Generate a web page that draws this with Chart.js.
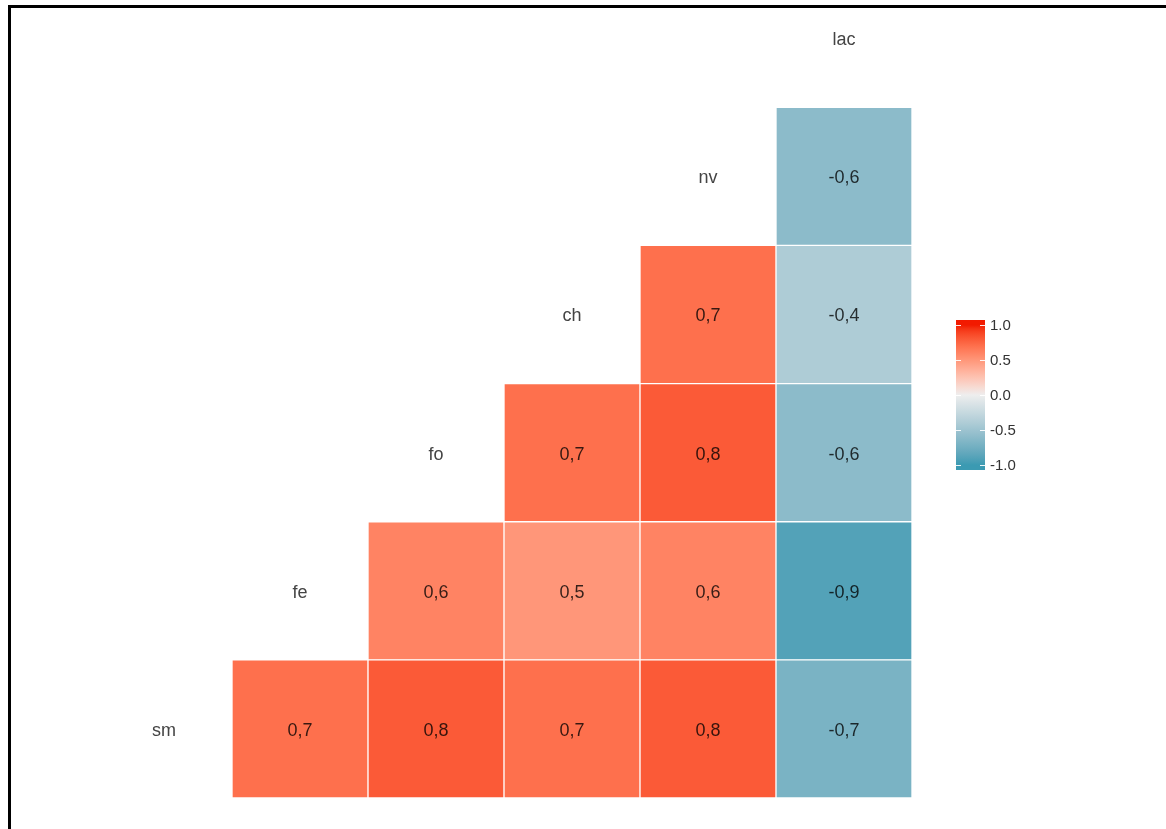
<!DOCTYPE html>
<html>
<head>
<meta charset="utf-8">
<script src="https://cdn.jsdelivr.net/npm/chart.js@4"></script>
<style>
  body { margin: 0; background: #fff; }
  #wrap { position: relative; width: 1166px; height: 829px; overflow: hidden; }
  #frame { position: absolute; left: 8px; top: 5px; right: -10px; bottom: -10px;
           border-top: 3px solid #000; border-left: 3px solid #000; }
  #corrChart { position: absolute; left: 0; top: 0; }
</style>
</head>
<body>
<div id="wrap">
  <div id="frame"></div>
  <canvas id="corrChart" width="1166" height="829"></canvas>
</div>
<script>
// variables, bottom row first
const vars = ['sm', 'fe', 'fo', 'ch', 'nv', 'lac'];

// correlations by row (null = empty / diagonal)
const rowSm  = [null, 0.7, 0.8, 0.7, 0.8, -0.7];
const rowFe  = [null, null, 0.6, 0.5, 0.6, -0.9];
const rowFo  = [null, null, null, 0.7, 0.8, -0.6];
const rowCh  = [null, null, null, null, 0.7, -0.4];
const rowNv  = [null, null, null, null, null, -0.6];
const rowLac = [null, null, null, null, null, null];
const rows = [rowSm, rowFe, rowFo, rowCh, rowNv, rowLac];

const legendTicks = [1, 0.5, 0, -0.5, -1];

const LOW = '#3B9AB2', MID = '#EEEEEE', HIGH = '#F21A00';

// --- colour ramp in Lab space ---
function hexToRgb(h) {
  return [parseInt(h.slice(1, 3), 16), parseInt(h.slice(3, 5), 16), parseInt(h.slice(5, 7), 16)];
}
function toLin(c) { c /= 255; return c <= 0.04045 ? c / 12.92 : Math.pow((c + 0.055) / 1.055, 2.4); }
function fromLin(c) {
  const v = c <= 0.0031308 ? 12.92 * c : 1.055 * Math.pow(c, 1 / 2.4) - 0.055;
  return Math.max(0, Math.min(255, Math.round(v * 255)));
}
const WX = 0.95047, WY = 1.0, WZ = 1.08883;
function rgbToLab(rgb) {
  const r = toLin(rgb[0]), g = toLin(rgb[1]), b = toLin(rgb[2]);
  const x = (r * 0.4124 + g * 0.3576 + b * 0.1805) / WX;
  const y = (r * 0.2126 + g * 0.7152 + b * 0.0722) / WY;
  const z = (r * 0.0193 + g * 0.1192 + b * 0.9505) / WZ;
  const f = t => t > 0.008856 ? Math.cbrt(t) : 7.787 * t + 16 / 116;
  const fx = f(x), fy = f(y), fz = f(z);
  return [116 * fy - 16, 500 * (fx - fy), 200 * (fy - fz)];
}
function labToRgb(lab) {
  const fy = (lab[0] + 16) / 116, fx = fy + lab[1] / 500, fz = fy - lab[2] / 200;
  const inv = t => t * t * t > 0.008856 ? t * t * t : (t - 16 / 116) / 7.787;
  const x = inv(fx) * WX, y = inv(fy) * WY, z = inv(fz) * WZ;
  const r = x * 3.2406 + y * -1.5372 + z * -0.4986;
  const g = x * -0.9689 + y * 1.8758 + z * 0.0415;
  const b = x * 0.0557 + y * -0.2040 + z * 1.0570;
  return [fromLin(r), fromLin(g), fromLin(b)];
}
const labLow = rgbToLab(hexToRgb(LOW)), labMid = rgbToLab(hexToRgb(MID)), labHigh = rgbToLab(hexToRgb(HIGH));
function fillFor(v) {
  const end = v < 0 ? labLow : labHigh;
  const t = Math.min(1, Math.abs(v));
  const lab = labMid.map((m, k) => m + (end[k] - m) * t);
  const c = labToRgb(lab);
  return `rgb(${c[0]},${c[1]},${c[2]})`;
}

function fmt(v) { return v.toFixed(1).replace('.', ','); }

const datasets = rows.map((vals, i) => ({
  label: vars[i],
  data: vals.map(v => v === null ? null : [i - 0.5, i + 0.5]),
  backgroundColor: vals.map(v => v === null ? 'rgba(0,0,0,0)' : fillFor(v)),
  borderColor: 'rgba(255,255,255,0.75)',
  borderWidth: 1,
  borderSkipped: false,
  grouped: false,
  barPercentage: 1,
  categoryPercentage: 1
}));

// diagonal names + cell values
const cellLabels = {
  id: 'cellLabels',
  afterDatasetsDraw(chart) {
    const ctx = chart.ctx;
    const x = chart.scales.x, y = chart.scales.y;
    ctx.save();
    ctx.textAlign = 'center';
    ctx.textBaseline = 'middle';
    ctx.font = '18px "Liberation Sans", Arial, sans-serif';
    ctx.fillStyle = '#444';
    vars.forEach((name, i) => {
      ctx.fillText(name, x.getPixelForValue(i), y.getPixelForValue(i) + 2);
    });
    ctx.fillStyle = 'rgba(0,0,0,0.78)';
    rows.forEach((vals, i) => {
      vals.forEach((v, j) => {
        if (v === null) return;
        ctx.fillText(fmt(v), x.getPixelForValue(j), y.getPixelForValue(i) + 2);
      });
    });
    ctx.restore();
  }
};

// colour bar legend
const colorBar = {
  id: 'colorBar',
  afterDraw(chart) {
    const ctx = chart.ctx;
    const left = 956, width = 29, top1 = 325, bottom1 = 465, pad = 5;
    const pos = v => top1 + (1 - v) / 2 * (bottom1 - top1);
    const grad = ctx.createLinearGradient(0, top1, 0, bottom1);
    for (let s = 0; s <= 40; s++) {
      grad.addColorStop(s / 40, fillFor(1 - s / 20));
    }
    ctx.save();
    ctx.fillStyle = grad;
    ctx.fillRect(left, top1 - pad, width, bottom1 - top1 + pad * 2);
    ctx.strokeStyle = 'rgba(255,255,255,0.9)';
    ctx.lineWidth = 1;
    ctx.font = '15px "Liberation Sans", Arial, sans-serif';
    ctx.fillStyle = '#333';
    ctx.textAlign = 'left';
    ctx.textBaseline = 'middle';
    legendTicks.forEach(t => {
      const yy = Math.round(pos(t)) + 0.5;
      ctx.beginPath();
      ctx.moveTo(left, yy); ctx.lineTo(left + 5, yy);
      ctx.moveTo(left + width - 5, yy); ctx.lineTo(left + width, yy);
      ctx.stroke();
      ctx.fillText(t.toFixed(1), left + width + 5, pos(t) + 1);
    });
    ctx.restore();
  }
};

new Chart(document.getElementById('corrChart'), {
  type: 'bar',
  data: { labels: vars, datasets },
  options: {
    responsive: false,
    animation: false,
    layout: { padding: { left: 96, right: 254, top: 12, bottom: 31 } },
    scales: {
      x: { type: 'category', display: false, offset: true, grid: { display: false } },
      y: { type: 'linear', display: false, min: -0.5, max: 5.19 }
    },
    plugins: { legend: { display: false }, tooltip: { enabled: false } }
  },
  plugins: [cellLabels, colorBar]
});
</script>
</body>
</html>
